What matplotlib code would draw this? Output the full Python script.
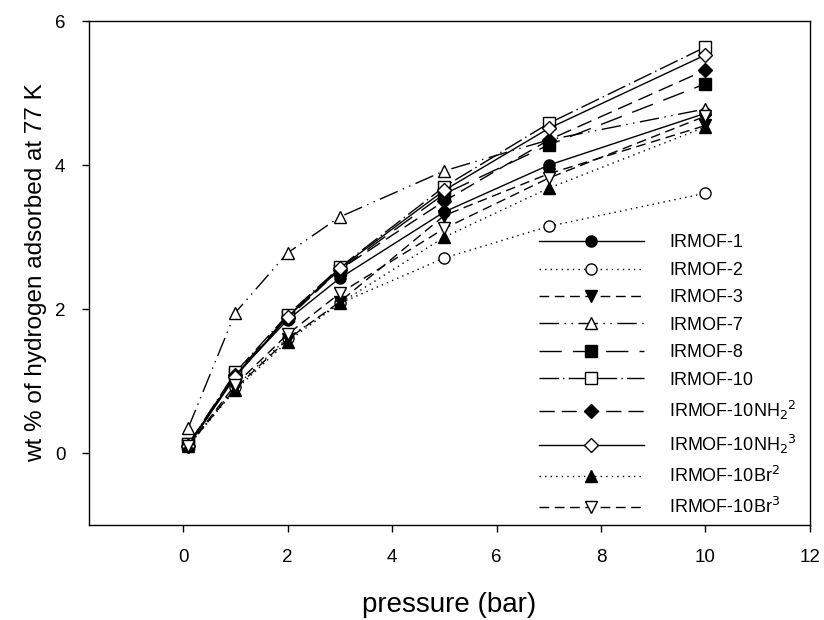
import numpy as np
import matplotlib.pyplot as plt

plt.rcParams['font.family'] = ['Liberation Sans', 'DejaVu Sans']

pressure = [0.1, 1, 2, 3, 5, 7, 10]

irmof_1 = [0.12, 1.08, 1.85, 2.43, 3.35, 4.00, 4.72]
irmof_2 = [0.10, 0.92, 1.60, 2.08, 2.71, 3.15, 3.61]
irmof_3 = [0.10, 0.90, 1.58, 2.10, 3.30, 3.88, 4.55]
irmof_7 = [0.35, 1.95, 2.78, 3.28, 3.92, 4.35, 4.78]
irmof_8 = [0.12, 1.10, 1.90, 2.55, 3.60, 4.28, 5.13]
irmof_10 = [0.12, 1.12, 1.92, 2.58, 3.70, 4.58, 5.64]
irmof_10nh2_2 = [0.10, 1.08, 1.87, 2.55, 3.50, 4.35, 5.32]
irmof_10nh2_3 = [0.10, 1.06, 1.89, 2.57, 3.65, 4.51, 5.53]
irmof_10br_2 = [0.10, 0.88, 1.55, 2.08, 3.00, 3.68, 4.53]
irmof_10br_3 = [0.10, 0.95, 1.65, 2.22, 3.12, 3.82, 4.68]

series = [
    ('IRMOF-1', irmof_1, 'o', 'k', '-'),
    ('IRMOF-2', irmof_2, 'o', 'w', (0, (1, 3))),
    ('IRMOF-3', irmof_3, 'v', 'k', (0, (7, 4))),
    ('IRMOF-7', irmof_7, '^', 'w', (0, (14, 4, 1, 4, 1, 4))),
    ('IRMOF-8', irmof_8, 's', 'k', (0, (16, 8))),
    ('IRMOF-10', irmof_10, 's', 'w', (0, (14, 3, 1, 3))),
    ('IRMOF-10NH$_2$$^2$', irmof_10nh2_2, 'D', 'k', (0, (11, 5))),
    ('IRMOF-10NH$_2$$^3$', irmof_10nh2_3, 'D', 'w', '-'),
    ('IRMOF-10Br$^2$', irmof_10br_2, '^', 'k', (0, (1, 3))),
    ('IRMOF-10Br$^3$', irmof_10br_3, 'v', 'w', (0, (7, 4))),
]

fig = plt.figure(figsize=(8.24, 6.2), dpi=100)
ax = fig.add_axes([0.108, 0.153, 0.875, 0.813])

for name, vals, mk, fc, ls in series:
    ms = 7 if mk == 'D' else 8
    ax.plot(pressure, vals, color='k', linestyle=ls, linewidth=1,
            marker=mk, markersize=ms, markerfacecolor=fc,
            markeredgecolor='k', markeredgewidth=1, label=name)

ax.set_xlim(-1.8, 12)
ax.set_ylim(-1, 6)
ax.set_xticks([0, 2, 4, 6, 8, 10, 12])
ax.set_yticks([0, 2, 4, 6])
ax.tick_params(direction='out', length=5, width=1, labelsize=13.5, pad=12)
for s in ax.spines.values():
    s.set_linewidth(1)

ax.set_xlabel('pressure (bar)', fontsize=20, labelpad=19)
ax.set_ylabel('wt % of hydrogen adsorbed at 77 K', fontsize=17.5, labelpad=6)

ax.legend(loc='lower right', bbox_to_anchor=(0.993, 0.0), frameon=False,
          fontsize=13, numpoints=1, handlelength=5.8, handletextpad=1.4,
          labelspacing=0.58, borderaxespad=0.05)

plt.savefig('out.png', dpi=100)
